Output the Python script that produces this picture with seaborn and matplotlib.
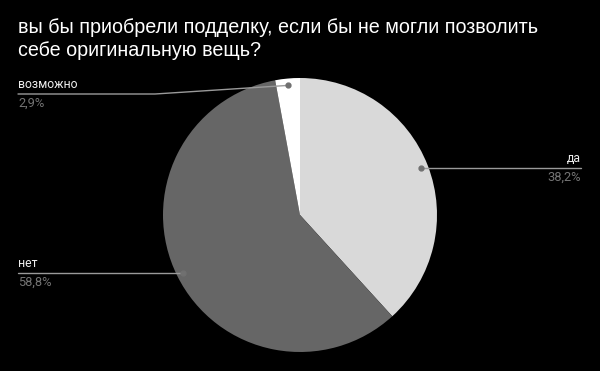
import numpy as np
import matplotlib
matplotlib.use("Agg")
import matplotlib.pyplot as plt
import seaborn as sns

labels = ["да", "нет", "возможно"]
values = [38.2, 58.8, 2.9]
pct_labels = ["38,2%", "58,8%", "2,9%"]
colors = ["#d9d9d9", "#666666", "#ffffff"]
title = "вы бы приобрели подделку, если бы не могли позволить\nсебе оригинальную вещь?"

sns.set_theme(style="white")
plt.rcParams["font.family"] = ["Liberation Sans", "DejaVu Sans"]

W, H = 600, 371
fig = plt.figure(figsize=(6, 3.71), dpi=100, facecolor="black")
ax = fig.add_axes([0, 0, 1, 1])
ax.set_facecolor("black")

cx, cy, R = 300, H - 215, 137
wedges, _ = ax.pie(values, colors=colors, startangle=90, counterclock=False,
                   center=(cx, cy), radius=R, frame=True,
                   wedgeprops=dict(linewidth=0))
ax.set_xlim(0, W)
ax.set_ylim(0, H)
ax.set_aspect("equal")
ax.axis("off")

line_col = "#9a9a9a"
dot_col = "#707070"
name_col = "#eeeeee"
pct_col = "#747474"
lab_font = ["Roboto", "DejaVu Sans"]

for i, w in enumerate(wedges):
    ang = np.deg2rad((w.theta1 + w.theta2) / 2)
    dx, dy = cx + 0.95 * R * np.cos(ang), cy + 0.95 * R * np.sin(ang)
    ax.plot([dx], [dy], marker="o", ms=3.5, color=dot_col, zorder=5)
    if np.cos(ang) > 0:
        xe, ha = 581, "right"
        ly = dy
        ax.plot([dx, xe], [ly, ly], color=line_col, lw=1, zorder=4)
    else:
        xe, ha = 18, "left"
        ly = min(dy, H - 94)
        ax.plot([dx, 155 if ly != dy else xe, xe], [dy, ly, ly], color=line_col, lw=1, zorder=4)
    ax.text(xe, ly + 3, labels[i], ha=ha, va="bottom", color=name_col,
            fontsize=8.8, family=lab_font)
    ax.text(xe, ly - 3, pct_labels[i], ha=ha, va="top", color=pct_col,
            fontsize=9.3, family=lab_font)

fig.text(18 / W, 1 - 18 / H, title, ha="left", va="top", color="white",
         fontsize=14.2, linespacing=1.25)

fig.savefig("out.png", dpi=100, facecolor="black")
